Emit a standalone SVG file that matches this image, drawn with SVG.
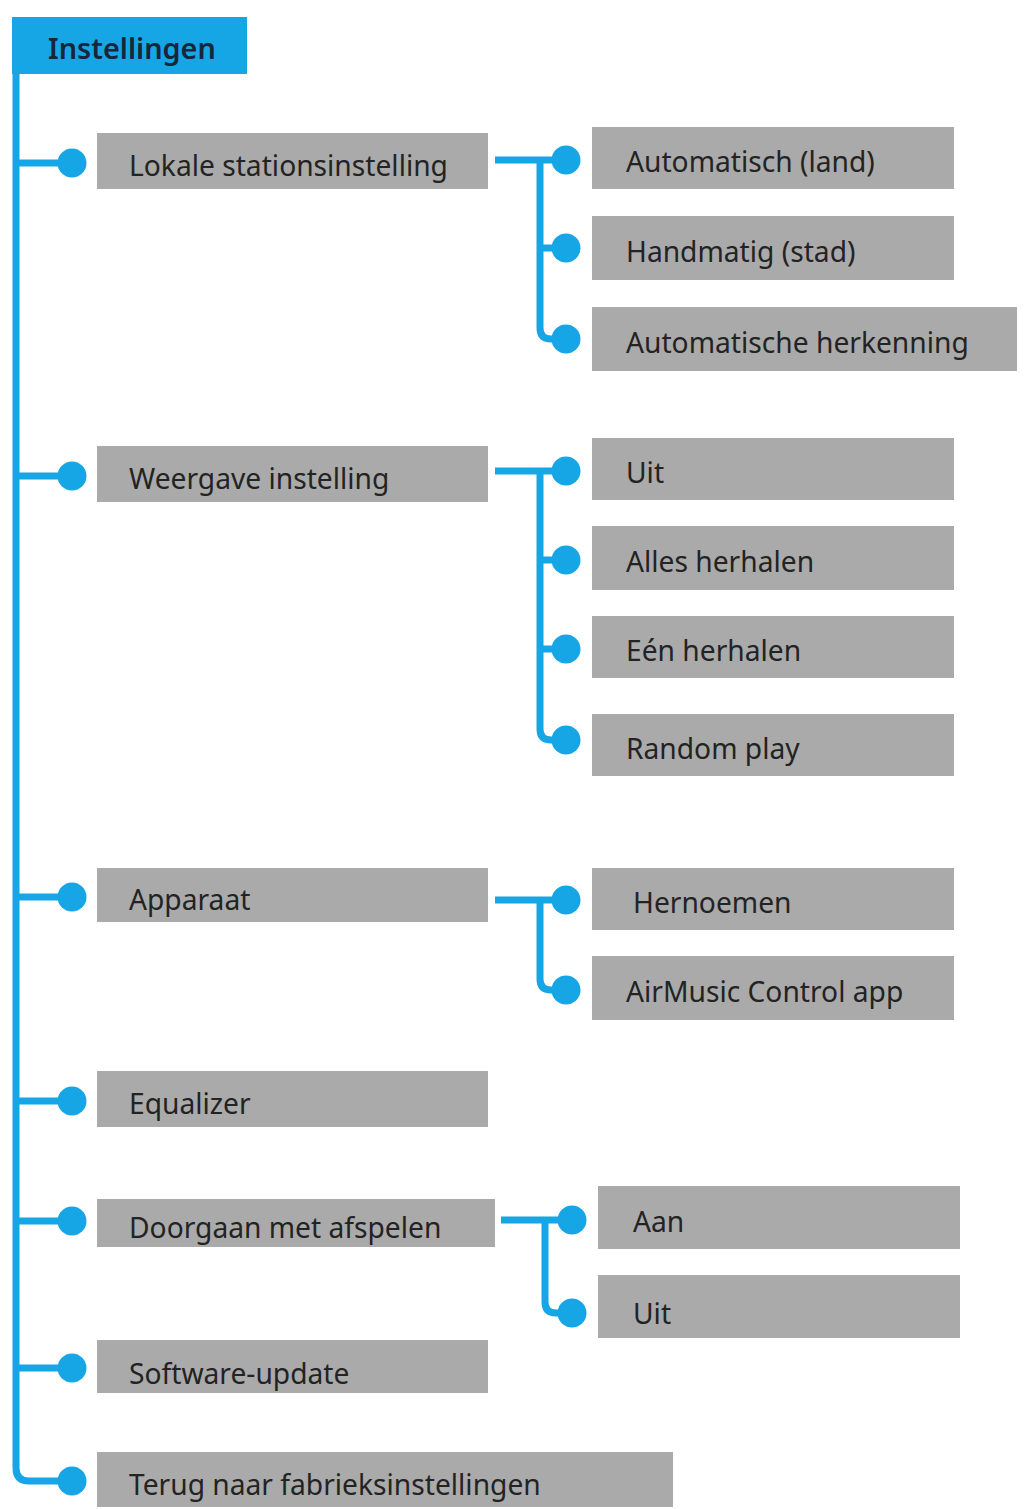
<svg xmlns="http://www.w3.org/2000/svg" width="1026" height="1509" viewBox="0 0 1026 1509">
<style>
.box{fill:#aaaaaa}
.t{font-family:"Noto Sans","Open Sans",sans-serif;font-size:28.2px;fill:#232323}
.h{font-family:"Noto Sans","Open Sans",sans-serif;font-size:28.8px;font-weight:600;fill:#17263a}
.ln{fill:none;stroke:#16a6e6;stroke-width:7}
.dot{fill:#16a6e6}
</style>
<rect width="1026" height="1509" fill="#ffffff"/>
<g id="connectors">
<path class="ln" d="M16,74 V1468 Q16,1481 29,1481 H72"/>
<path class="ln" d="M16,163 H72 M16,476 H72 M16,897 H72 M16,1101 H72 M16,1221 H72 M16,1368 H72"/>
<path class="ln" d="M495,160 H566 M540,160 V328 Q540,339 551,339 H566 M540,248 H566"/>
<path class="ln" d="M495,471 H566 M540,471 V729 Q540,740 551,740 H566 M540,560 H566 M540,649 H566"/>
<path class="ln" d="M495,900 H566 M540,900 V979 Q540,990 551,990 H566"/>
<path class="ln" d="M501,1220 H572 M545,1220 V1302 Q545,1313 556,1313 H572"/>
</g>
<g id="n-instellingen"><rect x="12" y="17" width="235" height="57" fill="#16a6e6"/><text class="h" x="48" y="59">Instellingen</text></g>
<g id="n-lokale"><circle class="dot" cx="72" cy="163" r="14.5"/><rect class="box" x="97" y="133" width="391" height="56"/><text class="t" x="129" y="176">Lokale stationsinstelling</text></g>
<g id="n-auto-land"><circle class="dot" cx="566" cy="160" r="14.5"/><rect class="box" x="592" y="127" width="362" height="62"/><text class="t" x="626" y="172">Automatisch (land)</text></g>
<g id="n-handmatig"><circle class="dot" cx="566" cy="248" r="14.5"/><rect class="box" x="592" y="216" width="362" height="64"/><text class="t" x="626" y="262">Handmatig (stad)</text></g>
<g id="n-herkenning"><circle class="dot" cx="566" cy="339" r="14.5"/><rect class="box" x="592" y="307" width="425" height="64"/><text class="t" x="626" y="353">Automatische herkenning</text></g>
<g id="n-weergave"><circle class="dot" cx="72" cy="476" r="14.5"/><rect class="box" x="97" y="446" width="391" height="56"/><text class="t" x="129" y="489">Weergave instelling</text></g>
<g id="n-uit1"><circle class="dot" cx="566" cy="471" r="14.5"/><rect class="box" x="592" y="438" width="362" height="62"/><text class="t" x="626" y="483">Uit</text></g>
<g id="n-alles"><circle class="dot" cx="566" cy="560" r="14.5"/><rect class="box" x="592" y="526" width="362" height="64"/><text class="t" x="626" y="572">Alles herhalen</text></g>
<g id="n-een"><circle class="dot" cx="566" cy="649" r="14.5"/><rect class="box" x="592" y="616" width="362" height="62"/><text class="t" x="626" y="661">Eén herhalen</text></g>
<g id="n-random"><circle class="dot" cx="566" cy="740" r="14.5"/><rect class="box" x="592" y="714" width="362" height="62"/><text class="t" x="626" y="759">Random play</text></g>
<g id="n-apparaat"><circle class="dot" cx="72" cy="897" r="14.5"/><rect class="box" x="97" y="868" width="391" height="54"/><text class="t" x="129" y="910">Apparaat</text></g>
<g id="n-hernoemen"><circle class="dot" cx="566" cy="900" r="14.5"/><rect class="box" x="592" y="868" width="362" height="62"/><text class="t" x="633" y="913">Hernoemen</text></g>
<g id="n-airmusic"><circle class="dot" cx="566" cy="990" r="14.5"/><rect class="box" x="592" y="956" width="362" height="64"/><text class="t" x="626" y="1002">AirMusic Control app</text></g>
<g id="n-equalizer"><circle class="dot" cx="72" cy="1101" r="14.5"/><rect class="box" x="97" y="1071" width="391" height="56"/><text class="t" x="129" y="1114">Equalizer</text></g>
<g id="n-doorgaan"><circle class="dot" cx="72" cy="1221" r="14.5"/><rect class="box" x="97" y="1199" width="398" height="48"/><text class="t" x="129" y="1238">Doorgaan met afspelen</text></g>
<g id="n-aan"><circle class="dot" cx="572" cy="1220" r="14.5"/><rect class="box" x="598" y="1186" width="362" height="63"/><text class="t" x="633" y="1232">Aan</text></g>
<g id="n-uit2"><circle class="dot" cx="572" cy="1313" r="14.5"/><rect class="box" x="598" y="1275" width="362" height="63"/><text class="t" x="633" y="1324">Uit</text></g>
<g id="n-software"><circle class="dot" cx="72" cy="1368" r="14.5"/><rect class="box" x="97" y="1340" width="391" height="53"/><text class="t" x="129" y="1384">Software-update</text></g>
<g id="n-terug"><circle class="dot" cx="72" cy="1481" r="14.5"/><rect class="box" x="97" y="1452" width="576" height="55"/><text class="t" x="129" y="1495">Terug naar fabrieksinstellingen</text></g>
</svg>
